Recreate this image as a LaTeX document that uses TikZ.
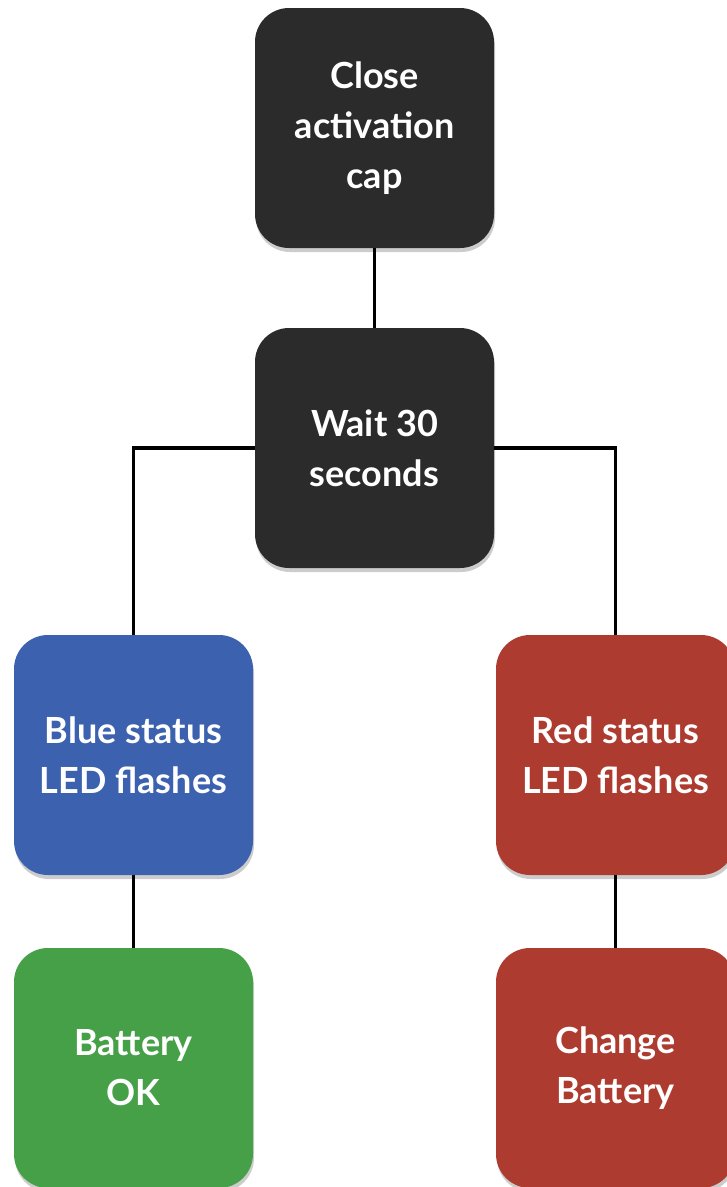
\documentclass[tikz,border=0pt]{standalone}
\usepackage{fontspec}
\setmainfont{Lato}
\usetikzlibrary{shadows}
\definecolor{boxdark}{HTML}{2B2B2B}
\definecolor{boxblue}{HTML}{3C62AF}
\definecolor{boxred}{HTML}{AE3B2F}
\definecolor{boxgreen}{HTML}{45A047}
\tikzset{
  card/.style={rounded corners=34pt, minimum width=239pt, minimum height=240pt,
    align=center, text=white, font=\fontsize{36}{50}\selectfont\bfseries,
    drop shadow={shadow xshift=1pt, shadow yshift=-4pt, opacity=0.4}},
  wire/.style={line width=3.2pt, black}
}
\begin{document}
\begin{tikzpicture}[x=1pt, y=1pt]
                            \useasboundingbox (0, 0) rectangle (727, -1187);
                            \clip (0, 0) rectangle (727, -1187);
                            \node[card, fill=boxdark] (close) at (374.5, -128) {Close\\activation\\cap};
                            \node[card, fill=boxdark] (wait) at (374.5, -448) {Wait 30\\seconds};
                            \node[card, fill=boxblue] (blue) at (133.5, -755) {Blue status\\LED flashes};
                            \node[card, fill=boxred] (redled) at (615.5, -755) {Red status\\LED flashes};
                            \node[card, fill=boxgreen] (ok) at (133.5, -1068) {Battery\\OK};
                            \node[card, fill=boxred] (change) at (615.5, -1068) {Change\\Battery};
                            \draw[wire] (close.south) -- (wait.north);
                            \draw[wire] (wait.west) -| (blue.north);
                            \draw[wire] (wait.east) -| (redled.north);
                            \draw[wire] (blue.south) -- (ok.north);
                            \draw[wire] (redled.south) -- (change.north);
                        \end{tikzpicture}
\end{document}
